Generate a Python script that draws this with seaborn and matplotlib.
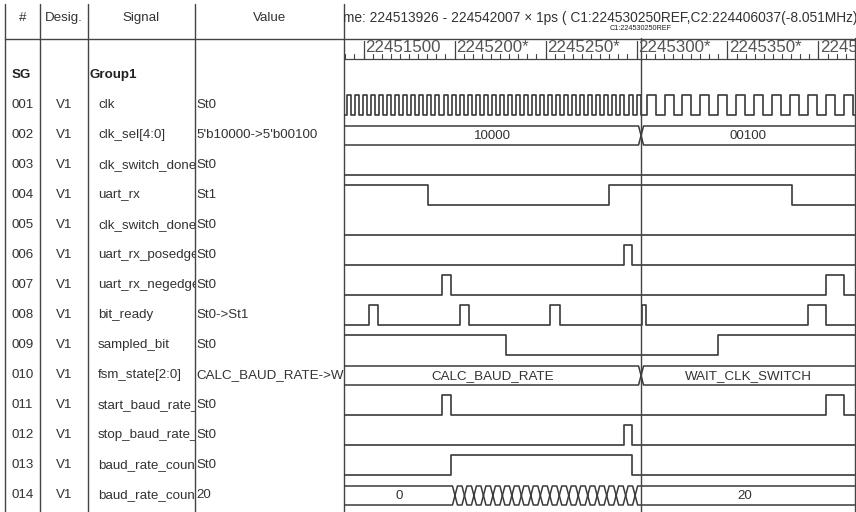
import numpy as np
import pandas as pd
import matplotlib
matplotlib.use("Agg")
import matplotlib.pyplot as plt
import seaborn as sns

# ---------------- data ----------------
T0, T1 = 224513926, 224542007          # visible window (ps)
C1 = 224530250                          # cursor C1
header_text = "Time: 224513926 - 224542007 \u00d7 1ps ( C1:224530250REF,C2:224406037(-8.051MHz)"
cursor_label = "C1:224530250REF"

ruler_major = [224515000, 224520000, 224525000, 224530000, 224535000, 224540000]
ruler_labels = ["22451500", "2245200*", "2245250*", "2245300*", "2245350*", "2245400*"]
ruler_minor_step = 500

row_ids = ["001", "002", "003", "004", "005", "006", "007",
           "008", "009", "010", "011", "012", "013", "014"]
desig = ["V1", "V1", "V1", "V1", "V1", "V1", "V1",
         "V1", "V1", "V1", "V1", "V1", "V1", "V1"]
sig_names = ["clk", "clk_sel[4:0]", "clk_switch_done", "uart_rx", "clk_switch_done",
             "uart_rx_posedge", "uart_rx_negedge", "bit_ready", "sampled_bit",
             "fsm_state[2:0]", "start_baud_rate_", "stop_baud_rate_",
             "baud_rate_coun", "baud_rate_coun"]
sig_values = ["St0", "5'b10000->5'b00100", "St0", "St1", "St0", "St0", "St0",
              "St0->St1", "St0", "CALC_BAUD_RATE->W", "St0", "St0",
              "St0", "20"]

# clk: rising edges (fast clock before the switch, slow clock after)
clk_rise_fast = [224514091, 224514533, 224514975, 224515417, 224515859, 224516301,
                 224516743, 224517185, 224517627, 224518069, 224518511, 224518953,
                 224519395, 224519837, 224520279, 224520721, 224521163, 224521605,
                 224522047, 224522489, 224522931, 224523373, 224523815, 224524257,
                 224524699, 224525141, 224525583, 224526025, 224526467, 224526909,
                 224527351, 224527793, 224528235, 224528677, 224529119, 224529561,
                 224530003]
clk_high_fast = 221
clk_rise_slow = [224530559, 224531543, 224532527, 224533511, 224534495, 224535479,
                 224536463, 224537447, 224538431, 224539415, 224540399, 224541383]
clk_high_slow = 492

clk_sel_times = [224530250]
clk_sel_labels = ["10000", "00100"]

clk_switch_done_toggles = []
uart_rx_init, uart_rx_toggles = 1, [224518540, 224528490, 224538544]
posedge_rise, posedge_fall = [224529296], [224529768]
negedge_rise, negedge_fall = [224519295, 224540399], [224519806, 224541383]
bit_ready_rise = [224515316, 224520300, 224525262, 224530285, 224539415]
bit_ready_fall = [224515811, 224520778, 224525795, 224530521, 224540399]
sampled_bit_init, sampled_bit_toggles = 1, [224522828, 224534495]
fsm_times = [224530250]
fsm_labels = ["CALC_BAUD_RATE", "WAIT_CLK_SWITCH"]
start_rise, start_fall = [224519295, 224540399], [224519806, 224541383]
stop_rise, stop_fall = [224529296], [224529768]
cnt_en_rise, cnt_en_fall = [224519806], [224529768]
cnt_times = [224520025, 224520546, 224521067, 224521588, 224522109, 224522630,
             224523151, 224523672, 224524193, 224524714, 224525235, 224525756,
             224526277, 224526798, 224527319, 224527840, 224528361, 224528882,
             224529403, 224529924]
cnt_values = ["0", "1", "2", "3", "4", "5", "6", "7", "8", "9", "10", "11", "12",
              "13", "14", "15", "16", "17", "18", "19", "20"]

# ---------------- style / layout ----------------
W, H = 856, 512
WAVE_X0, WAVE_X1 = 344, 855
LINE = "#3a3a3a"
TXT = "#333333"
FS = 9.6

sns.set_theme(style="white")
plt.rcParams["font.family"] = ["Liberation Sans", "DejaVu Sans"]

fig = plt.figure(figsize=(W / 100, H / 100), dpi=100)
fig.patch.set_facecolor("white")


def px_axes(x0, x1):
    a = fig.add_axes([x0 / W, 0, (x1 - x0) / W, 1])
    a.set_xlim(x0, x1)
    a.set_ylim(H, 0)
    a.axis("off")
    a.patch.set_facecolor("none")
    return a


bg = px_axes(0, W)
for xv in [5, 40, 88, 195, 344]:
    bg.plot([xv, xv], [4, H], color="#444444", lw=1.0)
bg.plot([855, 855], [38, H], color="#444444", lw=1.0)
bg.plot([5, 855], [38.5, 38.5], color="#444444", lw=1.0)

row_y = lambda r: 75 + 30 * r

cols = [(5, 40), (40, 88), (88, 195), (195, 344)]
col_axes = [px_axes(a, b) for a, b in cols]
headers = ["#", "Desig.", "Signal", "Value"]
for (a, b), ca, h in zip(cols, col_axes, headers):
    ca.text((a + b) / 2, 18, h, ha="center", va="center", fontsize=FS, color=TXT, clip_on=True)

col_axes[0].text(12, row_y(0), "SG", ha="left", va="center", fontsize=FS, color="#222222",
                 fontweight="bold", clip_on=True)
col_axes[2].text(90, row_y(0), "Group1", ha="left", va="center", fontsize=FS, color="#222222",
                 fontweight="bold", clip_on=True)
for i in range(len(row_ids)):
    y = row_y(i + 1)
    col_axes[0].text(12, y, row_ids[i], ha="left", va="center", fontsize=FS, color=TXT, clip_on=True)
    col_axes[1].text(64, y, desig[i], ha="center", va="center", fontsize=FS, color=TXT, clip_on=True)
    col_axes[2].text(98, y, sig_names[i], ha="left", va="center", fontsize=FS, color=TXT, clip_on=True)
    col_axes[3].text(196, y, sig_values[i], ha="left", va="center", fontsize=FS, color=TXT, clip_on=True)

# header of wave area
hdr = px_axes(344, W)
hdr.text(332, 18, header_text, ha="left", va="center", fontsize=9.9, color=TXT, clip_on=True)

# ---------------- waveform axes (time in ps) ----------------
ax = fig.add_axes([WAVE_X0 / W, 0, (WAVE_X1 - WAVE_X0) / W, 1])
ax.set_xlim(T0, T1)
ax.set_ylim(H, 0)
ax.axis("off")
ax.patch.set_facecolor("none")

ps_per_px = (T1 - T0) / (WAVE_X1 - WAVE_X0)

# ruler
minor = np.arange(224514000, T1, ruler_minor_step)
for t in minor:
    ax.plot([t, t], [54, 59], color="#444444", lw=0.8)
for t, lab in zip(ruler_major, ruler_labels):
    ax.plot([t, t], [41, 59], color="#444444", lw=0.9)
    ax.text(t + 1.5 * ps_per_px, 48, lab, ha="left", va="center", fontsize=12.2,
            color="#555555", clip_on=True)
ax.plot([T0, T1], [59, 59], color="#444444", lw=0.9)
ax.text(C1, 29, cursor_label, ha="center", va="center", fontsize=5.2, color="#222222")


def step_df(name, row, init, toggles):
    toggles = sorted(toggles)
    t = [T0] + toggles + [T1]
    lv = [(init + i) % 2 for i in range(len(toggles) + 1)]
    lv.append(lv[-1])
    low = 85 + 30 * row
    return pd.DataFrame({"signal": name, "t": t, "y": [low - 20 * v for v in lv]})


clk_toggles = (clk_rise_fast + [r + clk_high_fast for r in clk_rise_fast]
               + clk_rise_slow + [r + clk_high_slow for r in clk_rise_slow])
frames = [
    step_df("clk", 1, 0, clk_toggles),
    step_df("clk_switch_done", 3, 0, clk_switch_done_toggles),
    step_df("uart_rx", 4, uart_rx_init, uart_rx_toggles),
    step_df("clk_switch_done2", 5, 0, []),
    step_df("uart_rx_posedge", 6, 0, posedge_rise + posedge_fall),
    step_df("uart_rx_negedge", 7, 0, negedge_rise + negedge_fall),
    step_df("bit_ready", 8, 0, bit_ready_rise + bit_ready_fall),
    step_df("sampled_bit", 9, sampled_bit_init, sampled_bit_toggles),
    step_df("start_baud_rate", 11, 0, start_rise + start_fall),
    step_df("stop_baud_rate", 12, 0, stop_rise + stop_fall),
    step_df("baud_rate_cnt_en", 13, 0, cnt_en_rise + cnt_en_fall),
]
wave = pd.concat(frames, ignore_index=True)
sns.lineplot(data=wave, x="t", y="y", units="signal", estimator=None, sort=False,
             drawstyle="steps-post", color=LINE, lw=1.2, ax=ax, legend=False)
ax.set_xlim(T0, T1)
ax.set_ylim(H, 0)
ax.axis("off")


def bus(row, times, labels):
    top, bot = 66 + 30 * row, 85 + 30 * row
    mid = (top + bot) / 2
    d = 2.5 * ps_per_px
    edges = [T0 - 3 * d] + list(times) + [T1 + 3 * d]
    for i, lab in enumerate(labels):
        a, b = edges[i], edges[i + 1]
        ax.plot([a, a + d, b - d, b, b - d, a + d, a],
                [mid, top, top, mid, bot, bot, mid], color=LINE, lw=1.1)
        a_vis, b_vis = max(a, T0), min(b, T1)
        if (b_vis - a_vis) / ps_per_px > 40:
            ax.text((a_vis + b_vis) / 2, mid + 0.5, lab, ha="center", va="center",
                    fontsize=FS, color=TXT, clip_on=True)


bus(2, clk_sel_times, clk_sel_labels)
bus(10, fsm_times, fsm_labels)
bus(14, cnt_times, cnt_values)

# cursor
ax.plot([C1, C1], [38, H], color="#444444", lw=1.0)

fig.savefig("out.png", dpi=100, facecolor="white")
